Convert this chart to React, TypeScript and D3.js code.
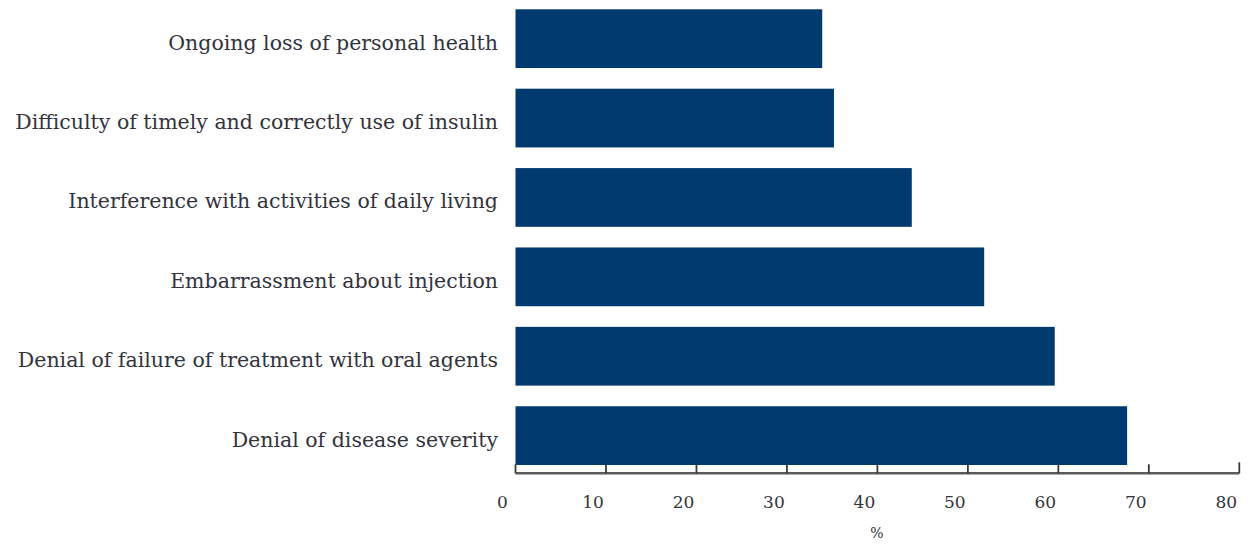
import * as d3 from 'd3';

const categories = [
  'Ongoing loss of personal health',
  'Difficulty of timely and correctly use of insulin',
  'Interference with activities of daily living',
  'Embarrassment about injection',
  'Denial of failure of treatment with oral agents',
  'Denial of disease severity',
];
const values = [33.9, 35.2, 43.8, 51.8, 59.6, 67.6];
const xTicks = [0, 10, 20, 30, 40, 50, 60, 70, 80];
const xTitle = '%';

const width = 1251;
const height = 550;
const margin = { left: 515.5, right: 11.7, top: 9.3, axisY: 473.3, bandBottom: 465 };
const barColor = '#003a6e';
const textColor = '#33333d';
const font = '"DejaVu Serif", "Liberation Serif", serif';

export default function App() {
  const x = d3.scaleLinear().domain([0, 80]).range([margin.left, width - margin.right]);
  const y = d3
    .scaleBand<string>()
    .domain(categories)
    .range([margin.top, margin.bandBottom])
    .paddingInner(0.26)
    .paddingOuter(0);

  return (
    <svg
      width={width}
      height={height}
      style={{ position: 'absolute', left: 0, top: 0, background: '#fff' }}
    >
      {categories.map((c, i) => (
        <g key={c}>
          <rect
            x={x(0)}
            y={y(c)}
            width={x(values[i]) - x(0)}
            height={y.bandwidth()}
            fill={barColor}
          />
          <text
            x={498}
            y={(y(c) ?? 0) + y.bandwidth() / 2 + 11}
            textAnchor="end"
            fill={textColor}
            fontFamily={font}
            fontSize={20.5}
          >
            {c}
          </text>
        </g>
      ))}

      {/* axis */}
      <line
        x1={x(0)}
        x2={x(80)}
        y1={margin.axisY}
        y2={margin.axisY}
        stroke="#5a5a5a"
        strokeWidth={2.5}
      />
      {xTicks.map((t) => (
        <g key={t}>
          <line
            x1={x(t)}
            x2={x(t)}
            y1={margin.axisY}
            y2={t === 80 ? margin.axisY - 11 : margin.axisY - 9}
            stroke="#3a3a3a"
            strokeWidth={1.8}
          />
          <text
            x={x(t) - 13}
            y={508}
            textAnchor="middle"
            fill={textColor}
            fontFamily={font}
            fontSize={17}
          >
            {t}
          </text>
        </g>
      ))}
      <text
        x={877}
        y={538}
        textAnchor="middle"
        fill={textColor}
        fontFamily={font}
        fontSize={14}
      >
        {xTitle}
      </text>
    </svg>
  );
}
